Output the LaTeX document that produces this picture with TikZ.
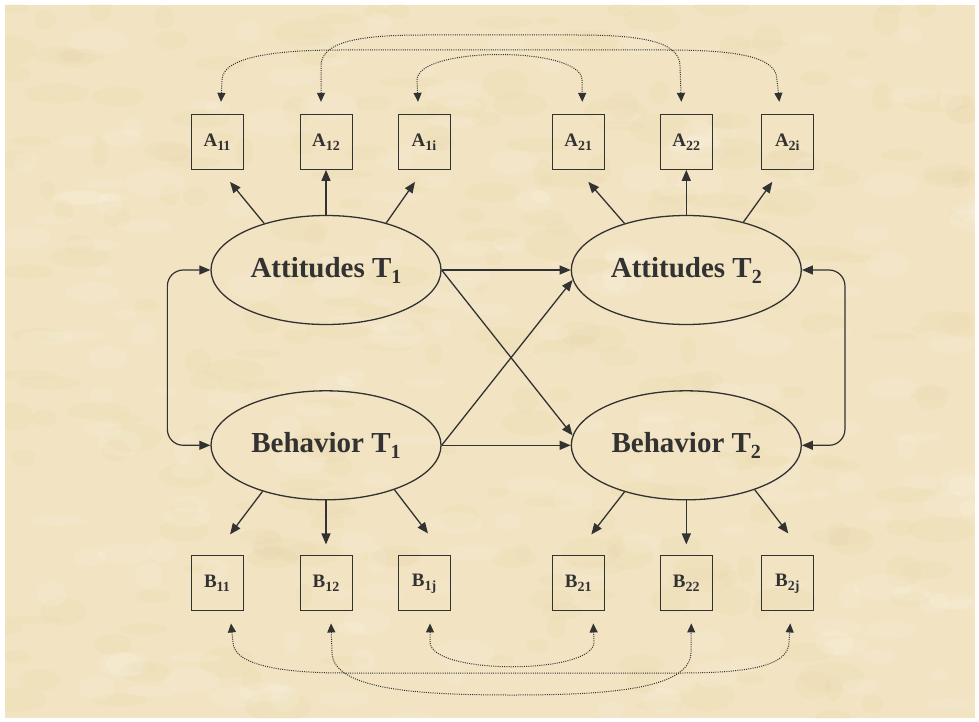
\documentclass[tikz,border=0pt]{standalone}
\usepackage{fontspec}
\setmainfont{Liberation Serif}
\usepackage{xcolor}
\usepackage{tikz}
\usetikzlibrary{positioning,arrows.meta,shapes.geometric}
\definecolor{parchment}{RGB}{242,228,194}
\definecolor{parchdark}{RGB}{228,206,160}
\definecolor{ink}{RGB}{50,50,50}
\newcommand{\latsub}[1]{\raisebox{-6pt}{\fontsize{20}{20}\selectfont #1}}
\newcommand{\obssub}[1]{\raisebox{-4pt}{\fontsize{14}{14}\selectfont #1}}

\begin{document}
\begin{tikzpicture}[x=1pt, y=-1pt,
  latent/.style={ellipse, draw=ink, line width=1.3pt, minimum width=230pt, minimum height=109pt, inner sep=0pt, font=\fontsize{29}{31}\selectfont\bfseries, text=ink},
  obs/.style={rectangle, draw=ink, line width=1pt, minimum width=52pt, minimum height=55pt, inner sep=0pt, font=\fontsize{19}{21}\selectfont\bfseries, text=ink},
  arr/.style={-{Triangle[length=11pt,width=9pt]}, line width=1.3pt, draw=ink},
  dcov/.style={{Triangle[length=11pt,width=9pt]}-{Triangle[length=11pt,width=9pt]}, line width=1.2pt, draw=ink, rounded corners=16pt},
  ecov/.style={{Triangle[length=9pt,width=8pt]}-{Triangle[length=9pt,width=8pt]}, line width=1pt, draw=ink, dash pattern=on 1pt off 1.2pt}
]
\useasboundingbox (0,0) rectangle (979,722);
\fill[white] (0,0) rectangle (979,722);
\fill[parchment] (5,5) rectangle (975,718);
\begin{scope}
  \clip (5,5) rectangle (975,718);
  \pgfmathsetseed{11}
  \foreach \k in {1,...,260}{
    \pgfmathsetmacro{\px}{5+970*rnd}
    \pgfmathsetmacro{\py}{5+713*rnd}
    \pgfmathsetmacro{\rx}{8+26*rnd}
    \pgfmathsetmacro{\ry}{4+12*rnd}
    \fill[parchdark, opacity=0.12] (\px,\py) ellipse [x radius=\rx, y radius=\ry];
  }
  \foreach \k in {1,...,200}{
    \pgfmathsetmacro{\px}{5+970*rnd}
    \pgfmathsetmacro{\py}{5+713*rnd}
    \pgfmathsetmacro{\rx}{8+22*rnd}
    \pgfmathsetmacro{\ry}{4+10*rnd}
    \fill[white, opacity=0.1] (\px,\py) ellipse [x radius=\rx, y radius=\ry];
  }
\end{scope}

\node[latent] (at1) at (326,270) {Attitudes T\latsub{1}};
\node[latent, right=129pt of at1] (at2) {Attitudes T\latsub{2}};
\node[latent, below=65pt of at1] (bt1) {Behavior T\latsub{1}};
\node[latent, right=129pt of bt1] (bt2) {Behavior T\latsub{2}};

\node[obs, above=45pt of at1] (a12) {A\obssub{12}};
\node[obs, left=56pt of a12] (a11) {A\obssub{11}};
\node[obs, right=45pt of a12] (a1i) {A\obssub{1i}};
\node[obs, above=45pt of at2] (a22) {A\obssub{22}};
\node[obs, left=55pt of a22] (a21) {A\obssub{21}};
\node[obs, right=48pt of a22] (a2i) {A\obssub{2i}};

\node[obs, below=55pt of bt1] (b12) {B\obssub{12}};
\node[obs, left=56pt of b12] (b11) {B\obssub{11}};
\node[obs, right=45pt of b12] (b1j) {B\obssub{1j}};
\node[obs, below=55pt of bt2] (b22) {B\obssub{22}};
\node[obs, left=55pt of b22] (b21) {B\obssub{21}};
\node[obs, right=48pt of b22] (b2j) {B\obssub{2j}};

\draw[arr] (at1.143) -- ([xshift=13pt,yshift=-12pt]a11.south);
\draw[arr] (at1) -- (a12);
\draw[arr] (at1.38) -- ([xshift=-9pt,yshift=-12pt]a1i.south);
\draw[arr] (at2.143) -- ([xshift=10pt,yshift=-12pt]a21.south);
\draw[arr] (at2) -- (a22);
\draw[arr] (at2.40) -- ([xshift=-15pt,yshift=-12pt]a2i.south);

\draw[arr] (bt1.216) -- ([xshift=13pt,yshift=21pt]b11.north);
\draw[arr, shorten >=11pt] (bt1) -- (b12);
\draw[arr] (bt1.327) -- ([xshift=4pt,yshift=22pt]b1j.north);
\draw[arr] (bt2.217) -- ([xshift=13pt,yshift=21pt]b21.north);
\draw[arr, shorten >=11pt] (bt2) -- (b22);
\draw[arr] (bt2.327) -- ([xshift=1pt,yshift=22pt]b2j.north);

\draw[arr] (at1.east) -- (at2.west);
\draw[arr] (at1.east) -- (bt2.175);
\draw[arr] (bt1.east) -- (at2.185);
\draw[arr] (bt1.east) -- (bt2.west);

\draw[dcov] (at1.west) -- ++(-43,0) |- (bt1.west);
\draw[dcov] (at2.east) -- ++(43,0) |- (bt2.east);

\coordinate (ta11) at ([xshift=4pt,yshift=12pt]a11.north);
\coordinate (ta12) at ([xshift=-5pt,yshift=12pt]a12.north);
\coordinate (ta1i) at ([xshift=-6pt,yshift=12pt]a1i.north);
\coordinate (ta21) at ([xshift=4pt,yshift=12pt]a21.north);
\coordinate (ta22) at ([xshift=-5pt,yshift=12pt]a22.north);
\coordinate (ta2i) at ([xshift=-8pt,yshift=12pt]a2i.north);
\coordinate (tb11) at ([xshift=14pt,yshift=-12pt]b11.south);
\coordinate (tb12) at ([xshift=5pt,yshift=-12pt]b12.south);
\coordinate (tb1j) at ([xshift=6pt,yshift=-12pt]b1j.south);
\coordinate (tb21) at ([xshift=15pt,yshift=-12pt]b21.south);
\coordinate (tb22) at ([xshift=5pt,yshift=-12pt]b22.south);
\coordinate (tb2j) at ([xshift=3pt,yshift=-12pt]b2j.south);

\draw[ecov] (ta11) -- (222,80) .. controls (222,56) and (280,50) .. (340,50) -- (665,50) .. controls (735,50) and (777,56) .. (777,80) -- (ta2i);
\draw[ecov] (ta12) -- (321,66) .. controls (321,40) and (365,35) .. (425,35) -- (576,35) .. controls (636,35) and (680,40) .. (680,66) -- (ta22);
\draw[ecov] (ta1i) -- (417,80) .. controls (417,46) and (582,46) .. (582,80) -- (ta21);

\draw[ecov] (tb11) -- (233,642) .. controls (233,667) and (290,673) .. (345,673) -- (680,673) .. controls (745,673) and (789,667) .. (789,642) -- (tb2j);
\draw[ecov] (tb12) -- (332,652) .. controls (332,690) and (420,695) .. (512,695) .. controls (604,695) and (691,690) .. (691,652) -- (tb22);
\draw[ecov] (tb1j) -- (430,642) .. controls (430,675) and (594,675) .. (594,642) -- (tb21);
\end{tikzpicture}
\end{document}
